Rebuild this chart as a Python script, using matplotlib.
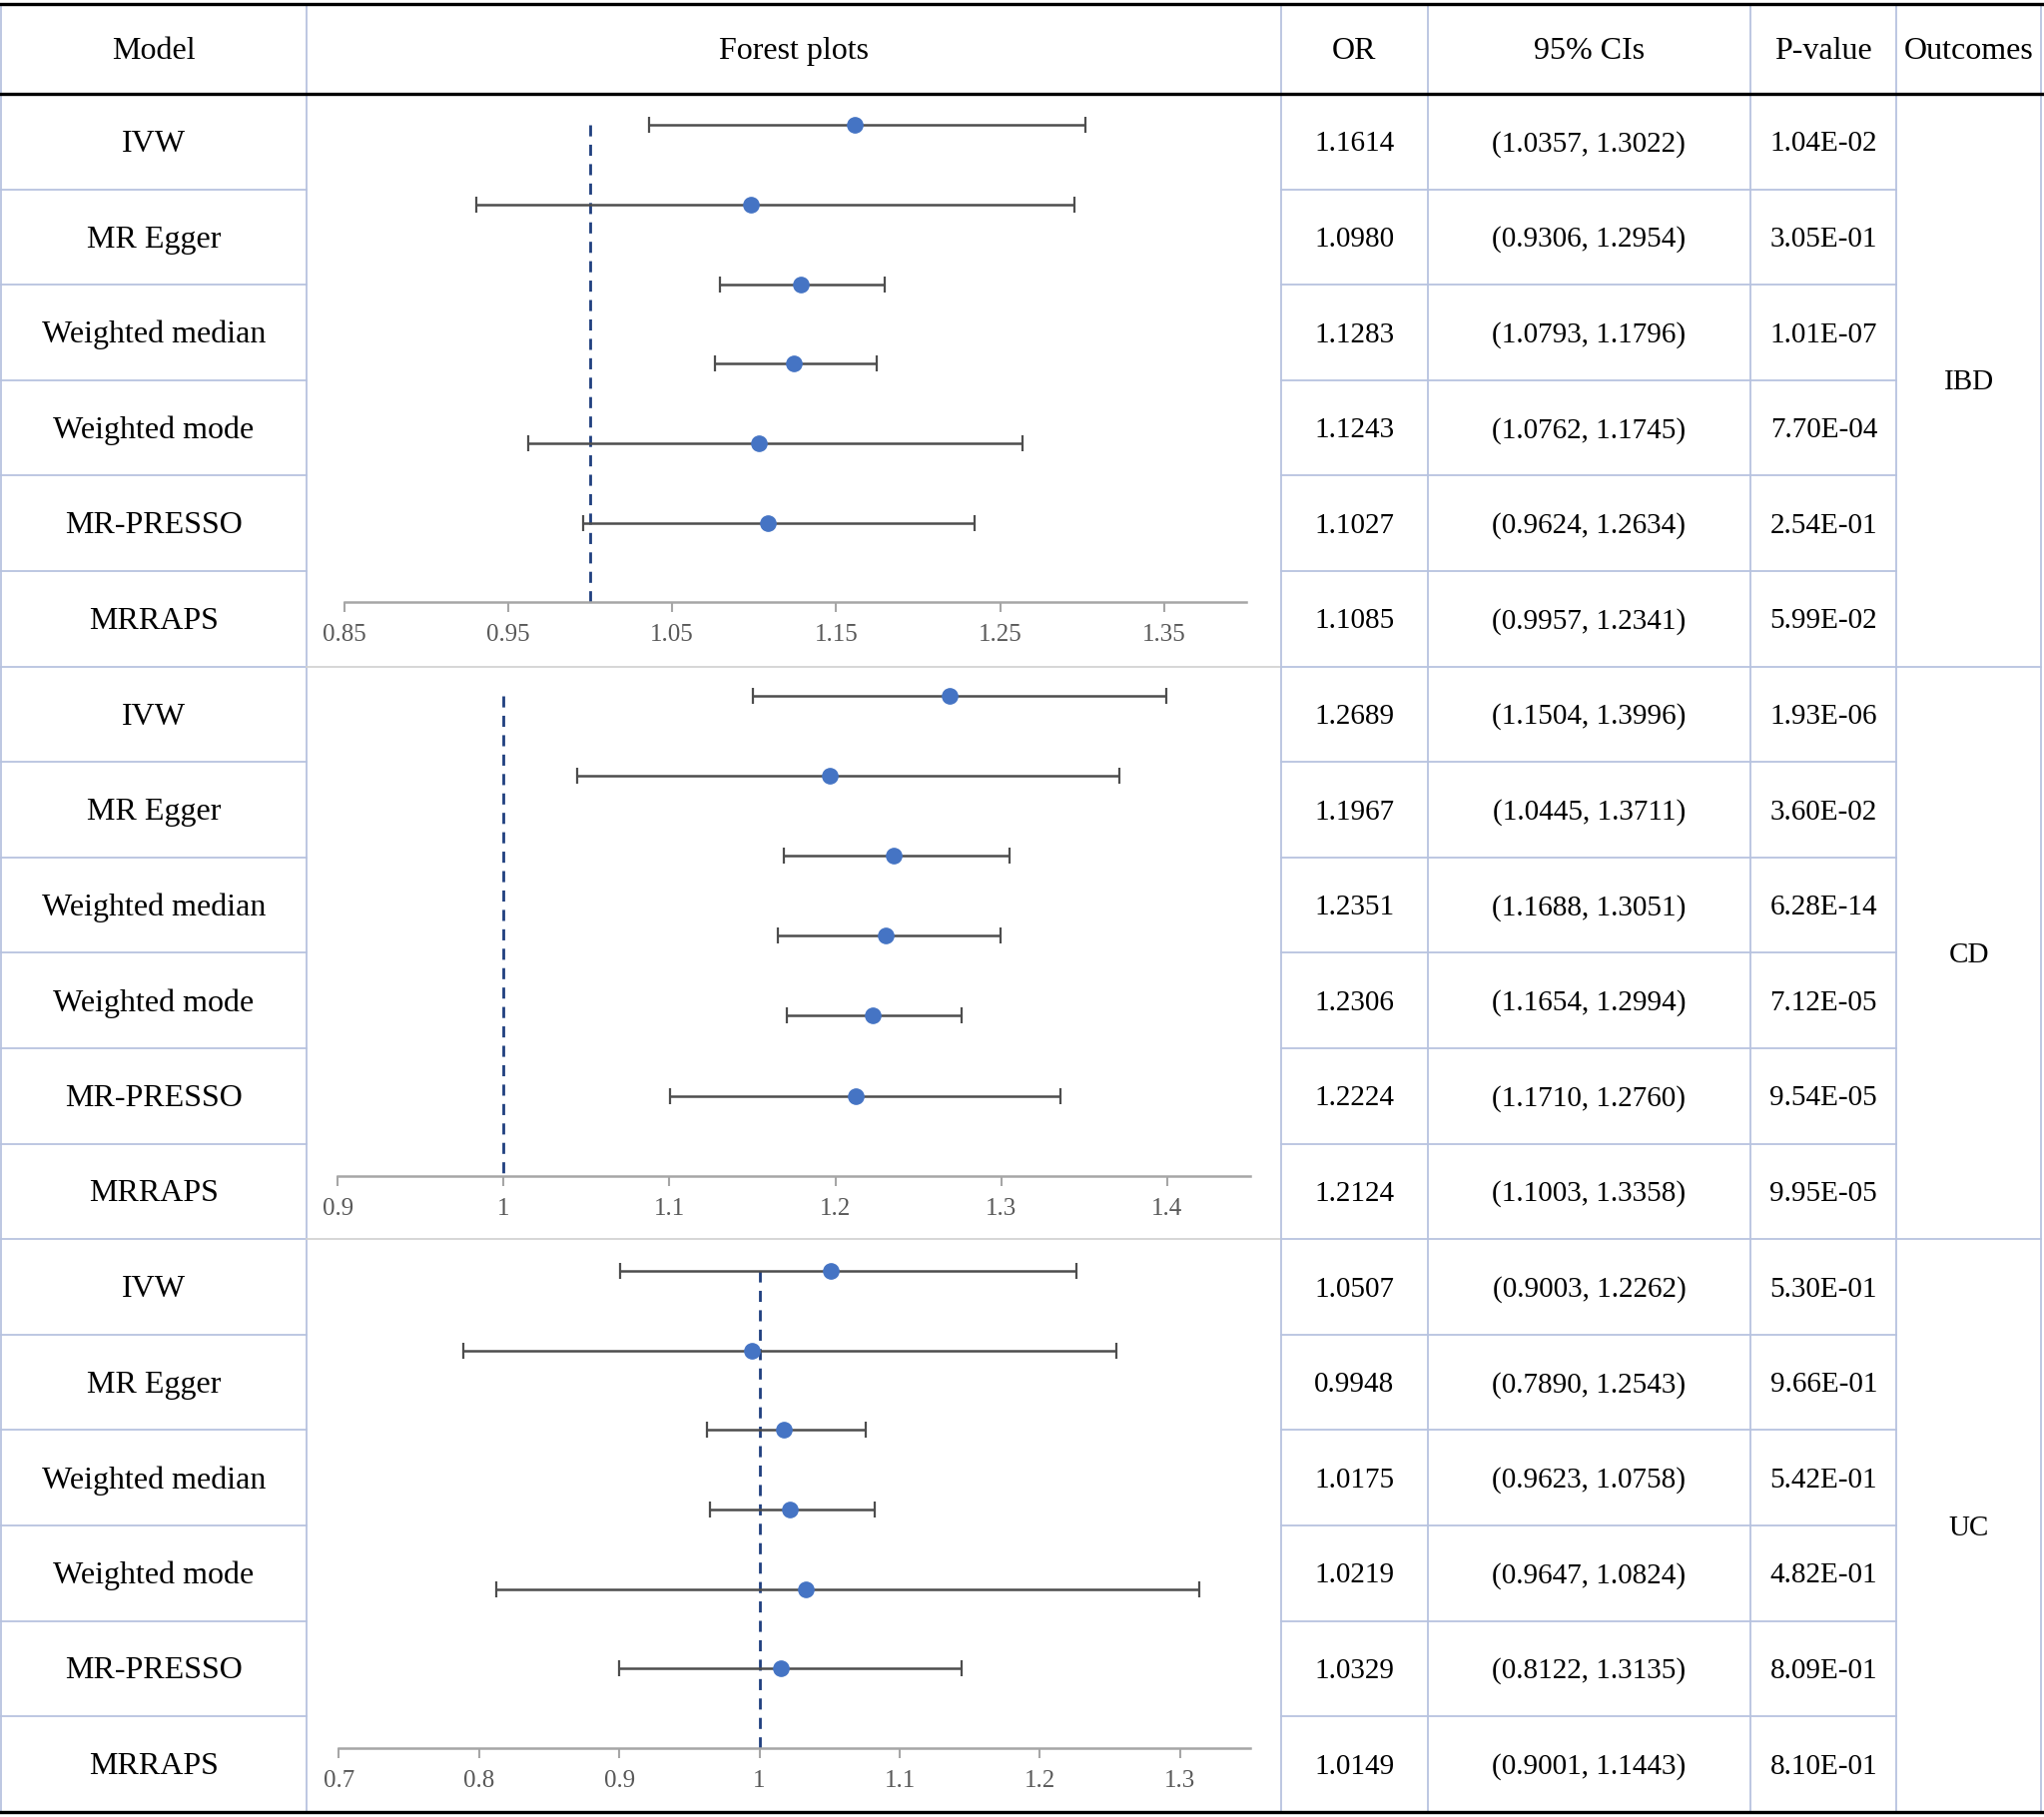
import matplotlib
matplotlib.use("Agg")
import matplotlib.pyplot as plt
from matplotlib.ticker import FormatStrFormatter

plt.rcParams['font.family'] = ['Liberation Serif', 'DejaVu Serif']

# ---------------- data ----------------
models = ["IVW", "MR Egger", "Weighted median", "Weighted mode", "MR-PRESSO", "MRRAPS"]
outcomes = ["IBD", "CD", "UC"]

ibd_or = [1.1614, 1.0980, 1.1283, 1.1243, 1.1027, 1.1085]
ibd_lo = [1.0357, 0.9306, 1.0793, 1.0762, 0.9624, 0.9957]
ibd_hi = [1.3022, 1.2954, 1.1796, 1.1745, 1.2634, 1.2341]
ibd_p = ["1.04E-02", "3.05E-01", "1.01E-07", "7.70E-04", "2.54E-01", "5.99E-02"]

cd_or = [1.2689, 1.1967, 1.2351, 1.2306, 1.2224, 1.2124]
cd_lo = [1.1504, 1.0445, 1.1688, 1.1654, 1.1710, 1.1003]
cd_hi = [1.3996, 1.3711, 1.3051, 1.2994, 1.2760, 1.3358]
cd_p = ["1.93E-06", "3.60E-02", "6.28E-14", "7.12E-05", "9.54E-05", "9.95E-05"]

uc_or = [1.0507, 0.9948, 1.0175, 1.0219, 1.0329, 1.0149]
uc_lo = [0.9003, 0.7890, 0.9623, 0.9647, 0.8122, 0.9001]
uc_hi = [1.2262, 1.2543, 1.0758, 1.0824, 1.3135, 1.1443]
uc_p = ["5.30E-01", "9.66E-01", "5.42E-01", "4.82E-01", "8.09E-01", "8.10E-01"]

ibd_ticks = [0.85, 0.95, 1.05, 1.15, 1.25, 1.35]
cd_ticks = [0.9, 1.0, 1.1, 1.2, 1.3, 1.4]
uc_ticks = [0.7, 0.8, 0.9, 1.0, 1.1, 1.2, 1.3]
ibd_xlim = (0.85, 1.40)
cd_xlim = (0.90, 1.45)
uc_xlim = (0.70, 1.35)

headers = ["Model", "Forest plots", "OR", "95% CIs", "P-value", "Outcomes"]

# ---------------- layout (in layout units: 1568 x 1394) ----------------
W, H = 1568.0, 1394.0
col_x = [1, 235, 983, 1095, 1343, 1455, 1566]
top_y, head_y, bot_y = 3, 72, 1390
row_h = (bot_y - head_y) / 18.0
dy = 2.0

fig = plt.figure(figsize=(20.47, 18.20), dpi=100)
fig.patch.set_facecolor("white")
base = fig.add_axes([0, 0, 1, 1])
base.set_xlim(0, W)
base.set_ylim(H, 0)
base.axis("off")

grid_c = "#b7c3df"
sep_c = "#d3d3d3"
fs = 21
fs_model = 23
fs_head = 23

# vertical lines
for x in col_x:
    base.plot([x, x], [top_y, bot_y], color=grid_c, lw=1.3, zorder=1)

# horizontal row lines
for k in range(1, 18):
    y = head_y + k * row_h
    if k % 6 == 0:
        base.plot([col_x[0], col_x[1]], [y, y], color=grid_c, lw=1.3, zorder=1)
        base.plot([col_x[1], col_x[2]], [y, y], color=sep_c, lw=1.3, zorder=1)
        base.plot([col_x[2], col_x[6]], [y, y], color=grid_c, lw=1.3, zorder=1)
    else:
        base.plot([col_x[0], col_x[1]], [y, y], color=grid_c, lw=1.3, zorder=1)
        base.plot([col_x[2], col_x[5]], [y, y], color=grid_c, lw=1.3, zorder=1)

# thick black borders
for y in (top_y, head_y, bot_y):
    base.plot([0, W], [y, y], color="black", lw=2.4, zorder=3)

# header texts
for i, h in enumerate(headers):
    cx = (col_x[i] + col_x[i + 1]) / 2
    base.text(cx, (top_y + head_y) / 2 + dy, h, ha="center", va="center", fontsize=fs_head)

panels = [
    (ibd_or, ibd_lo, ibd_hi, ibd_p, ibd_ticks, ibd_xlim, "%.2f"),
    (cd_or, cd_lo, cd_hi, cd_p, cd_ticks, cd_xlim, "%g"),
    (uc_or, uc_lo, uc_hi, uc_p, uc_ticks, uc_xlim, "%g"),
]
panel_left = [264, 259, 260]
panel_right = [956, 959, 959]
panel_first = [96, 534, 975]
panel_axis = [462, 902, 1341]

for p_i, (orv, lo, hi, pv, ticks, xl, fmt) in enumerate(panels):
    # table texts
    for r in range(6):
        k = p_i * 6 + r
        cy = head_y + (k + 0.5) * row_h + dy
        base.text((col_x[0] + col_x[1]) / 2, cy, models[r], ha="center", va="center", fontsize=fs_model)
        base.text((col_x[2] + col_x[3]) / 2, cy, f"{orv[r]:.4f}", ha="center", va="center", fontsize=fs)
        base.text((col_x[3] + col_x[4]) / 2, cy, f"({lo[r]:.4f}, {hi[r]:.4f})", ha="center", va="center", fontsize=fs)
        base.text((col_x[4] + col_x[5]) / 2, cy, pv[r], ha="center", va="center", fontsize=fs)
    ocy = head_y + (p_i * 6 + 3) * row_h + dy
    base.text((col_x[5] + col_x[6]) / 2, ocy, outcomes[p_i], ha="center", va="center", fontsize=fs)

    # forest panel
    unit = (panel_axis[p_i] - panel_first[p_i]) / 6.0
    top_px = panel_first[p_i] - 0.5 * unit
    l = panel_left[p_i] / W
    w = (panel_right[p_i] - panel_left[p_i]) / W
    b = 1 - panel_axis[p_i] / H
    h = (panel_axis[p_i] - top_px) / H
    ax = fig.add_axes([l, b, w, h])
    ax.patch.set_alpha(0)
    ys = list(range(1, 7))
    ax.vlines(1.0, 1, 7, colors="#1f3f7f", linestyles=(0, (4, 3)), lw=2.0, zorder=2)
    xerr = [[o - a for o, a in zip(orv, lo)], [c - o for o, c in zip(orv, hi)]]
    ax.errorbar(orv, ys, xerr=xerr, fmt="o", color="#4574c4", ms=11,
                ecolor="#4d4d4d", elinewidth=1.8, capsize=5.5, capthick=1.6, zorder=3)
    ax.set_xlim(*xl)
    ax.set_ylim(7, 0.5)
    ax.set_xticks(ticks)
    ax.xaxis.set_major_formatter(FormatStrFormatter(fmt))
    ax.set_yticks([])
    for s in ("top", "left", "right"):
        ax.spines[s].set_visible(False)
    ax.spines["bottom"].set_color("#a6a6a6")
    ax.spines["bottom"].set_linewidth(1.8)
    ax.tick_params(axis="x", direction="out", length=7, width=1.5, color="#a6a6a6",
                   labelcolor="#595959", labelsize=18, pad=9)

fig.savefig("out.png", dpi=100, facecolor="white")
